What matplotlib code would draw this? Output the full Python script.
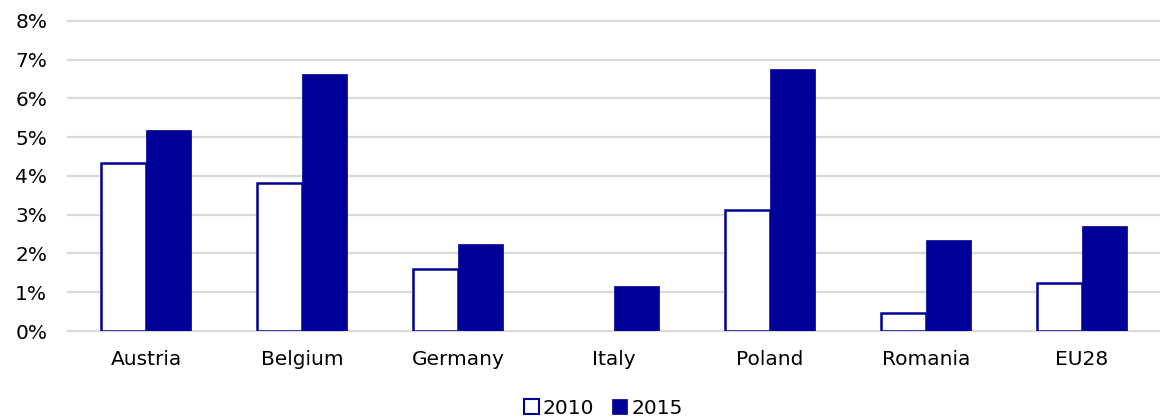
import matplotlib
matplotlib.use("Agg")
import matplotlib.pyplot as plt
import numpy as np
from matplotlib.ticker import FuncFormatter

categories = ["Austria", "Belgium", "Germany", "Italy", "Poland", "Romania", "EU28"]
values_2010 = [4.34, 3.81, 1.60, 0.0, 3.12, 0.46, 1.24]
values_2015 = [5.19, 6.62, 2.25, 1.16, 6.76, 2.36, 2.71]
series_labels = ["2010", "2015"]
yticks = [0, 1, 2, 3, 4, 5, 6, 7, 8]

blue = "#000099"
plt.rcParams['font.family'] = ['DejaVu Sans']

fig = plt.figure(figsize=(11.6, 4.19), dpi=100)
ax = fig.add_axes([0.0586, 0.21, 0.9414, 0.74])

x = np.arange(len(categories))
w = 0.29
lw2010 = [1.8 if v > 0 else 0 for v in values_2010]
ax.bar(x - w/2, values_2010, width=w, facecolor="white", edgecolor=blue,
       linewidth=lw2010, label=series_labels[0], zorder=3)
ax.bar(x + w/2, values_2015, width=w, facecolor=blue, edgecolor=blue,
       linewidth=0.5, label=series_labels[1], zorder=3)

ax.set_xlim(-0.5, len(categories) - 0.5)
ax.set_ylim(0, 8)
ax.set_yticks(yticks)
ax.yaxis.set_major_formatter(FuncFormatter(lambda v, p: f"{v:.0f}%"))
ax.set_xticks(x)
ax.set_xticklabels(categories)
ax.grid(axis="y", color="#d9d9d9", linewidth=1.6, zorder=0)
ax.set_axisbelow(True)
for gl in ax.get_ygridlines():
    gl.set_clip_on(False)
for s in ax.spines.values():
    s.set_visible(False)
ax.tick_params(axis="both", length=0, labelsize=14.5, colors="#000000")
ax.tick_params(axis="x", pad=14)
ax.tick_params(axis="y", pad=15)

leg = fig.legend(loc="lower center", bbox_to_anchor=(0.52, -0.04), ncol=2,
                 frameon=False, fontsize=14.5, handlelength=0.75, handleheight=0.75,
                 handletextpad=0.2, columnspacing=0.9)
leg.legend_handles[0].set_linewidth(1.5)

fig.savefig("out.png", dpi=100)
